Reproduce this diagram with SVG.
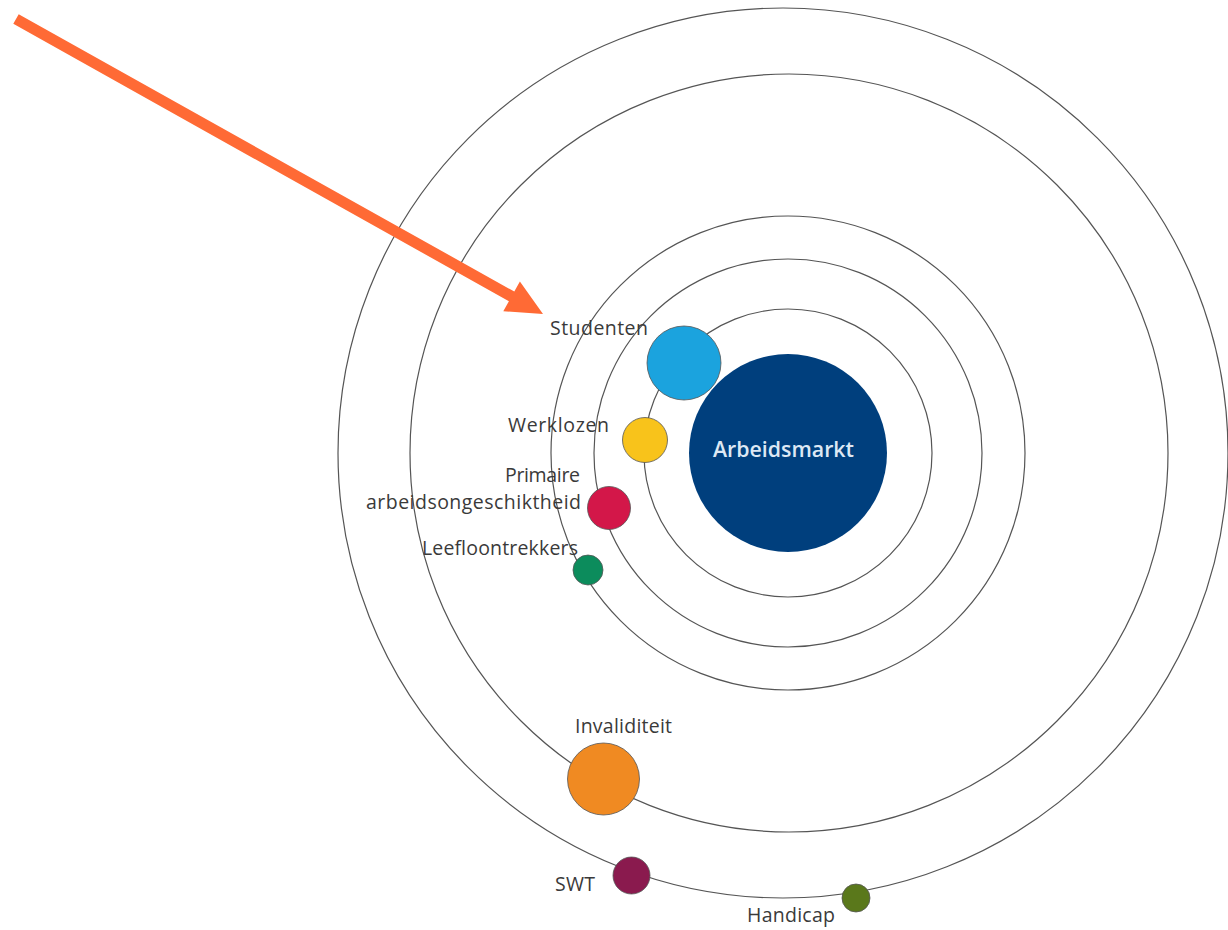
<svg xmlns="http://www.w3.org/2000/svg" width="1228" height="930" viewBox="0 0 1228 930">
<style>
.ring{fill:none;stroke:#555;stroke-width:1.2}
.lbl{font-family:"Open Sans","Liberation Sans",sans-serif;font-size:19.5px;fill:#3a3a3a}
.dot{stroke:#555;stroke-width:0.8}
</style>
<rect width="1228" height="930" fill="#fff"/>
<g id="rings">
<circle class="ring" cx="783" cy="453" r="445"/>
<circle class="ring" cx="789" cy="453" r="379"/>
<circle class="ring" cx="788" cy="453" r="237"/>
<circle class="ring" cx="788" cy="453" r="194"/>
<circle class="ring" cx="788" cy="453" r="144"/>
</g>
<g id="connectors">
<polygon points="18.7,14.2 514.3,291.6 519.9,281.6 543,314 503.3,311.2 508.9,301.2 13.3,23.8" fill="#FF6A35"/>
</g>
<g id="arbeidsmarkt">
<circle cx="788" cy="453" r="99" fill="#003F7D"/>
<text x="713" y="457" textLength="141" lengthAdjust="spacingAndGlyphs" font-family="'Open Sans','Liberation Sans',sans-serif" font-size="21" font-weight="600" fill="#DDE8F4">Arbeidsmarkt</text>
</g>
<g id="studenten">
<circle class="dot" cx="684" cy="363" r="37" fill="#1BA3DE"/>
<text class="lbl" x="550" y="335" textLength="98">Studenten</text>
</g>
<g id="werklozen">
<circle class="dot" cx="645" cy="440" r="22.5" fill="#F8C31B"/>
<text class="lbl" x="508" y="432" textLength="101">Werklozen</text>
</g>
<g id="primaire">
<circle class="dot" cx="609" cy="508" r="21.5" fill="#D31749"/>
<text class="lbl" x="505" y="482" textLength="75">Primaire</text>
<text class="lbl" x="366" y="509" textLength="215">arbeidsongeschiktheid</text>
</g>
<g id="leefloontrekkers">
<circle class="dot" cx="588" cy="570" r="15" fill="#0C8C5C"/>
<text class="lbl" x="422" y="555" textLength="156">Leefloontrekkers</text>
</g>
<g id="invaliditeit">
<circle class="dot" cx="603.5" cy="779" r="36" fill="#F08A22"/>
<text class="lbl" x="575" y="733" textLength="97">Invaliditeit</text>
</g>
<g id="swt">
<circle class="dot" cx="631.5" cy="875.5" r="18.5" fill="#8A1A4E"/>
<text class="lbl" x="555" y="891" textLength="40">SWT</text>
</g>
<g id="handicap">
<circle class="dot" cx="856" cy="898" r="14" fill="#5A781B"/>
<text class="lbl" x="747" y="922" textLength="88">Handicap</text>
</g>
</svg>
